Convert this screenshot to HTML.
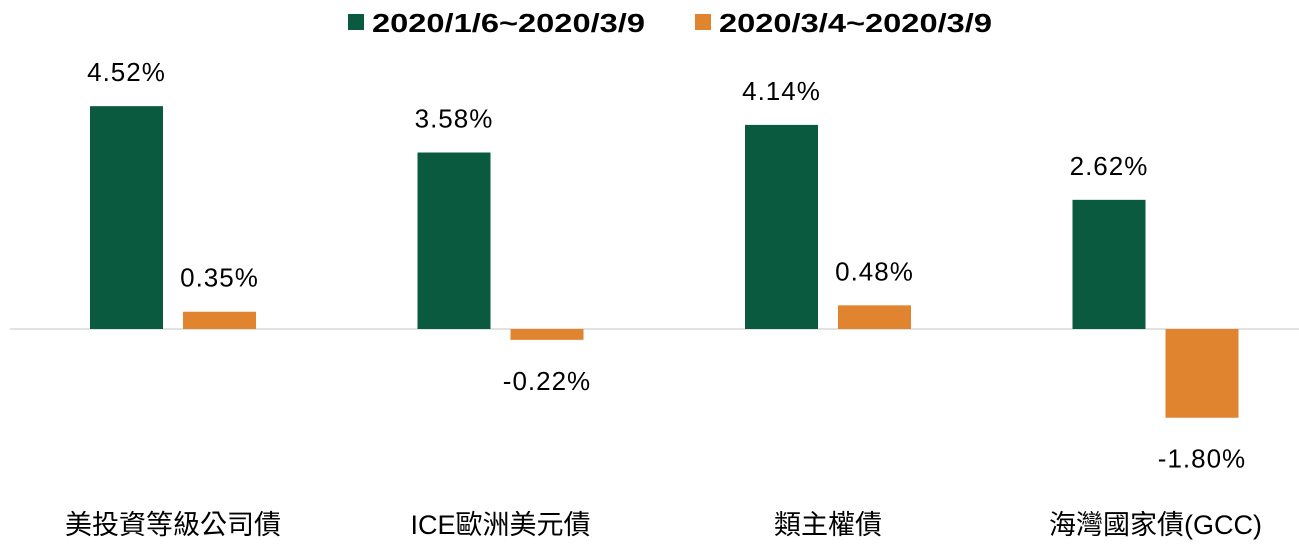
<!DOCTYPE html>
<html><head><meta charset="utf-8">
<style>
html,body{margin:0;padding:0;background:#fff;}
svg{display:block;font-family:"Liberation Sans","Noto Sans CJK TC",sans-serif;}
</style></head>
<body>
<svg id="chart" width="1299" height="555" viewBox="0 0 1299 555" xmlns="http://www.w3.org/2000/svg">
  <g>
    <g>
      <rect x="348" y="14" width="16" height="16" fill="#0a5a40"></rect>
      <text x="372" y="32" font-size="26" font-weight="bold" fill="#000" textLength="273" lengthAdjust="spacingAndGlyphs">2020/1/6~2020/3/9</text>
    </g>
    <g>
      <rect x="695" y="14" width="16" height="16" fill="#e08430"></rect>
      <text x="719" y="32" font-size="26" font-weight="bold" fill="#000" textLength="273" lengthAdjust="spacingAndGlyphs">2020/3/4~2020/3/9</text>
    </g>
  </g>
  <line x1="10" y1="329" x2="1299" y2="329" stroke="#d9d9d9" stroke-width="1.5"></line>
  <g id="bars"></g>
</svg>
<script>
const categories = ["美投資等級公司債","ICE歐洲美元債","類主權債","海灣國家債(GCC)"];
const series1 = [4.52, 3.58, 4.14, 2.62];
const series2 = [0.35, -0.22, 0.48, -1.80];
const colors = ["#0a5a40", "#e08430"];

const zeroY = 329, pxPer = 49.3;
const y = v => zeroY - v * pxPer;
const firstCenter = 173, step = 327.5, barW = 73, gap = 20;
const xCenter = i => firstCenter + i * step;
const svg = document.getElementById('bars');
const NS = "http://www.w3.org/2000/svg";
function fmt(v){ return v.toFixed(2) + "%"; }

[series1, series2].forEach((s, si) => {
  s.forEach((v, i) => {
    const x = xCenter(i) + (si === 0 ? -(gap/2 + barW) : gap/2);
    const r = document.createElementNS(NS, 'rect');
    
    
    r.setAttribute('x', x);
    r.setAttribute('y', Math.min(y(v), zeroY));
    r.setAttribute('width', barW);
    r.setAttribute('height', Math.abs(y(v) - zeroY));
    r.setAttribute('fill', colors[si]);
    svg.appendChild(r);
    const t = document.createElementNS(NS, 'text');
    
    
    t.setAttribute('x', x + barW/2);
    t.setAttribute('y', v >= 0 ? y(v) - 25 : y(v) + 50);
    t.setAttribute('text-anchor', 'middle');
    t.setAttribute('font-size', '26');
    t.setAttribute('letter-spacing', '1');
    t.setAttribute('fill', '#000');
    t.textContent = fmt(v);
    svg.appendChild(t);
  });
});
categories.forEach((c, i) => {
  const t = document.createElementNS(NS, 'text');
  
  
  t.setAttribute('x', xCenter(i));
  t.setAttribute('y', 534);
  t.setAttribute('text-anchor', 'middle');
  t.setAttribute('font-size', '27');
  t.setAttribute('fill', '#000');
  t.textContent = c;
  svg.appendChild(t);
});
</script>
</body></html>
